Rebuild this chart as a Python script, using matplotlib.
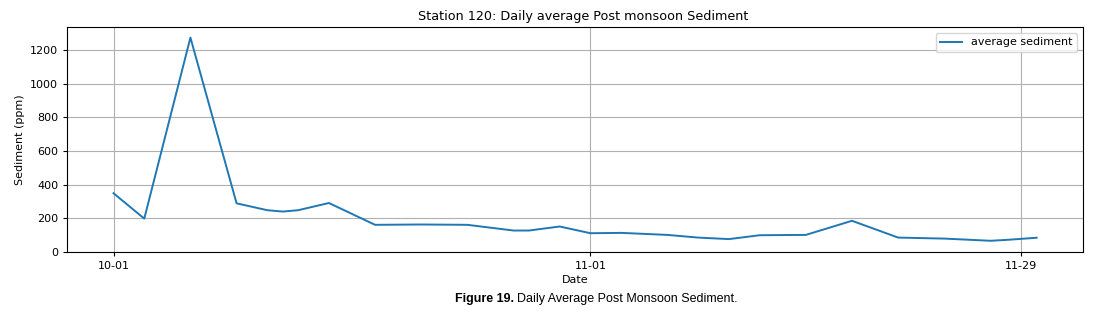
"""Station 120 daily average post monsoon sediment line chart."""

import matplotlib
matplotlib.use("Agg")
import matplotlib.pyplot as plt
import matplotlib.dates as mdates
import pandas as pd

# data (dates and ppm values)
dates = ["2019-10-01", "2019-10-03", "2019-10-06", "2019-10-09", "2019-10-11",
         "2019-10-12", "2019-10-13", "2019-10-15", "2019-10-18", "2019-10-21",
         "2019-10-24", "2019-10-27", "2019-10-28", "2019-10-30", "2019-11-01",
         "2019-11-03", "2019-11-06", "2019-11-08", "2019-11-10", "2019-11-12",
         "2019-11-15", "2019-11-18", "2019-11-21", "2019-11-24", "2019-11-27",
         "2019-11-28", "2019-11-30"]
sediment = [348, 197, 1275, 288, 247, 239, 247, 290, 160, 162,
            160, 126, 126, 150, 110, 112, 100, 84, 75, 98,
            100, 184, 84, 78, 65, 70, 83]
tick_dates = ["2019-10-01", "2019-11-01", "2019-11-29"]

x = pd.to_datetime(dates)

fig = plt.figure(figsize=(11.15, 3.19), dpi=100)
ax = fig.add_axes([0.0604, 0.211, 0.9107, 0.703])

ax.plot(x, sediment, color="#1f77b4", linewidth=1.4, label="average sediment")
ax.set_ylim(bottom=0)

ax.set_xticks(pd.to_datetime(tick_dates))
ax.xaxis.set_major_formatter(mdates.DateFormatter("%m-%d"))
ax.set_yticks([0, 200, 400, 600, 800, 1000, 1200])
ax.tick_params(labelsize=8, length=3)
ax.grid(True, color="#b0b0b0", linewidth=0.8)

title = ax.set_title("Station 120: Daily average Post monsoon Sediment", fontsize=9.2, pad=5)
title.set_x(0.508)
ax.set_xlabel("Date", fontsize=8, labelpad=3)
ax.set_ylabel("Sediment (ppm)", fontsize=8)
ax.legend(loc="upper right", fontsize=8)

# caption below the chart: bold "Figure 19." followed by regular text
fig.canvas.draw()
bold = fig.text(0.408, 0.062, "Figure 19.", fontsize=9, fontweight="bold",
                family="Liberation Sans", ha="left", va="center")
fig.canvas.draw()
bb = bold.get_window_extent().transformed(fig.transFigure.inverted())
fig.text(bb.x1 + 0.003, 0.062, "Daily Average Post Monsoon Sediment.", fontsize=9,
         family="Liberation Sans", ha="left", va="center")

fig.savefig("out.png", dpi=100)
